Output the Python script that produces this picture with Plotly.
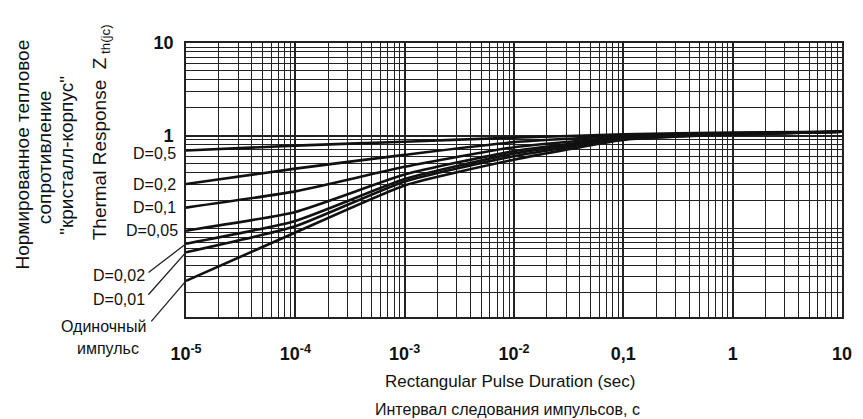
import numpy as np
import plotly.graph_objects as go

# ---- data ----
durations = [1e-5, 1e-4, 1e-3, 1e-2, 1e-1, 1, 10]
z_d05 = [0.69, 0.78, 0.86, 0.95, 1.03, 1.08, 1.10]
z_d02 = [0.30, 0.44, 0.62, 0.85, 0.99, 1.06, 1.10]
z_d01 = [0.167, 0.25, 0.46, 0.75, 0.96, 1.05, 1.10]
z_d005 = [0.094, 0.15, 0.38, 0.68, 0.94, 1.04, 1.10]
z_d002 = [0.068, 0.12, 0.34, 0.64, 0.93, 1.04, 1.10]
z_d001 = [0.055, 0.105, 0.32, 0.60, 0.92, 1.03, 1.10]
z_single = [0.027, 0.090, 0.29, 0.55, 0.90, 1.03, 1.10]

series_names = ["D=0,5", "D=0,2", "D=0,1", "D=0,05", "D=0,02", "D=0,01", "Одиночный импульс"]
series_values = [z_d05, z_d02, z_d01, z_d005, z_d002, z_d001, z_single]

x_tickvals = [1e-5, 1e-4, 1e-3, 1e-2, 1e-1, 1, 10]
x_ticktext = ["10<sup>-5</sup>", "10<sup>-4</sup>", "10<sup>-3</sup>", "10<sup>-2</sup>", "0,1", "1", "10"]
y_tickvals = [1, 10]
y_ticktext = ["1", "10"]

FONT = "Liberation Sans, Arial, sans-serif"

fig = go.Figure()
for name, vals in zip(series_names, series_values):
    fig.add_trace(go.Scatter(
        x=durations, y=vals, mode="lines", name=name,
        line=dict(color="#111111", width=2.6, shape="spline", smoothing=0.5),
        showlegend=False, hoverinfo="skip"))

grid_col = "#222222"
fig.update_xaxes(
    type="log", range=[-5, 1],
    tickvals=x_tickvals, ticktext=x_ticktext,
    showgrid=True, gridcolor=grid_col, gridwidth=1.7,
    minor=dict(showgrid=True, gridcolor=grid_col, gridwidth=1.3, dtick="D1"),
    showline=True, linecolor=grid_col, linewidth=1.6, mirror=True,
    ticks="", ticklabelstandoff=20,
    tickfont=dict(family=FONT, size=18, color="#111", weight="bold"),
    zeroline=False)
fig.update_yaxes(
    type="log", range=[np.log10(0.011), 1],
    tickvals=y_tickvals, ticktext=y_ticktext,
    showgrid=True, gridcolor=grid_col, gridwidth=1.7,
    minor=dict(showgrid=True, gridcolor=grid_col, gridwidth=1.3, dtick="D1"),
    showline=True, linecolor=grid_col, linewidth=1.6, mirror=True,
    ticks="", ticklabelstandoff=7,
    tickfont=dict(family=FONT, size=18, color="#111", weight="bold"),
    zeroline=False)

ann = []
# labels next to curve starts
def lab(text, yval, dx=-8, dy=0):
    ann.append(dict(x=np.log10(durations[0]), y=np.log10(yval), xref="x", yref="y",
                    text=text, showarrow=False, xanchor="right", yanchor="middle",
                    xshift=dx, yshift=dy, font=dict(family=FONT, size=16, color="#111")))

lab("D=0,5", z_d05[0], dy=-3)
lab("D=0,2", z_d02[0])
lab("D=0,1", z_d01[0])
lab("D=0,05", z_d005[0], dx=-6)

# leader lines for the lower curves
def leader(yval, ax, ay):
    ann.append(dict(x=np.log10(durations[0]), y=np.log10(yval), xref="x", yref="y",
                    text="", showarrow=True, arrowhead=0, arrowwidth=1.3,
                    arrowcolor="#222", ax=ax, ay=ay, standoff=0, startstandoff=0))

leader(z_d002[0], -39, 30)
leader(z_d001[0], -39, 44)
leader(z_single[0], -36, 42)

def ptxt(text, px, py, anchor="right", size=16, angle=0):
    ann.append(dict(x=(px - 186) / 666, y=(317 - py) / 274, xref="paper", yref="paper",
                    text=text, showarrow=False, xanchor=anchor, yanchor="middle",
                    textangle=angle, font=dict(family=FONT, size=size, color="#111")))

ptxt("D=0,02", 146, 275)
ptxt("D=0,01", 146, 299)
ptxt("Одиночный", 147, 326, anchor="right")
ptxt("импульс", 140, 348, anchor="right")

# axis titles
ptxt("Нормированное тепловое", 19, 155, anchor="center", size=19, angle=-90)
ptxt("сопротивление", 42, 157, anchor="center", size=19, angle=-90)
ptxt("\"кристалл-корпус\"", 64, 155, anchor="center", size=19, angle=-90)
ptxt("Thermal Response  Z<sub> th(jc)</sub>", 100, 132, anchor="center", size=19, angle=-90)
ptxt("Rectangular Pulse Duration (sec)", 515, 382, anchor="center", size=17)
ptxt("Интервал следования импульсов, с", 512, 409, anchor="center", size=16)

fig.update_layout(
    width=863, height=419,
    margin=dict(l=186, r=11, t=43, b=102),
    paper_bgcolor="white", plot_bgcolor="white",
    annotations=ann,
    font=dict(family=FONT, color="#111"))

fig.write_html("out.html", config={"displayModeBar": False},
               post_script="document.body.style.margin='0px';document.body.style.padding='0px';")
